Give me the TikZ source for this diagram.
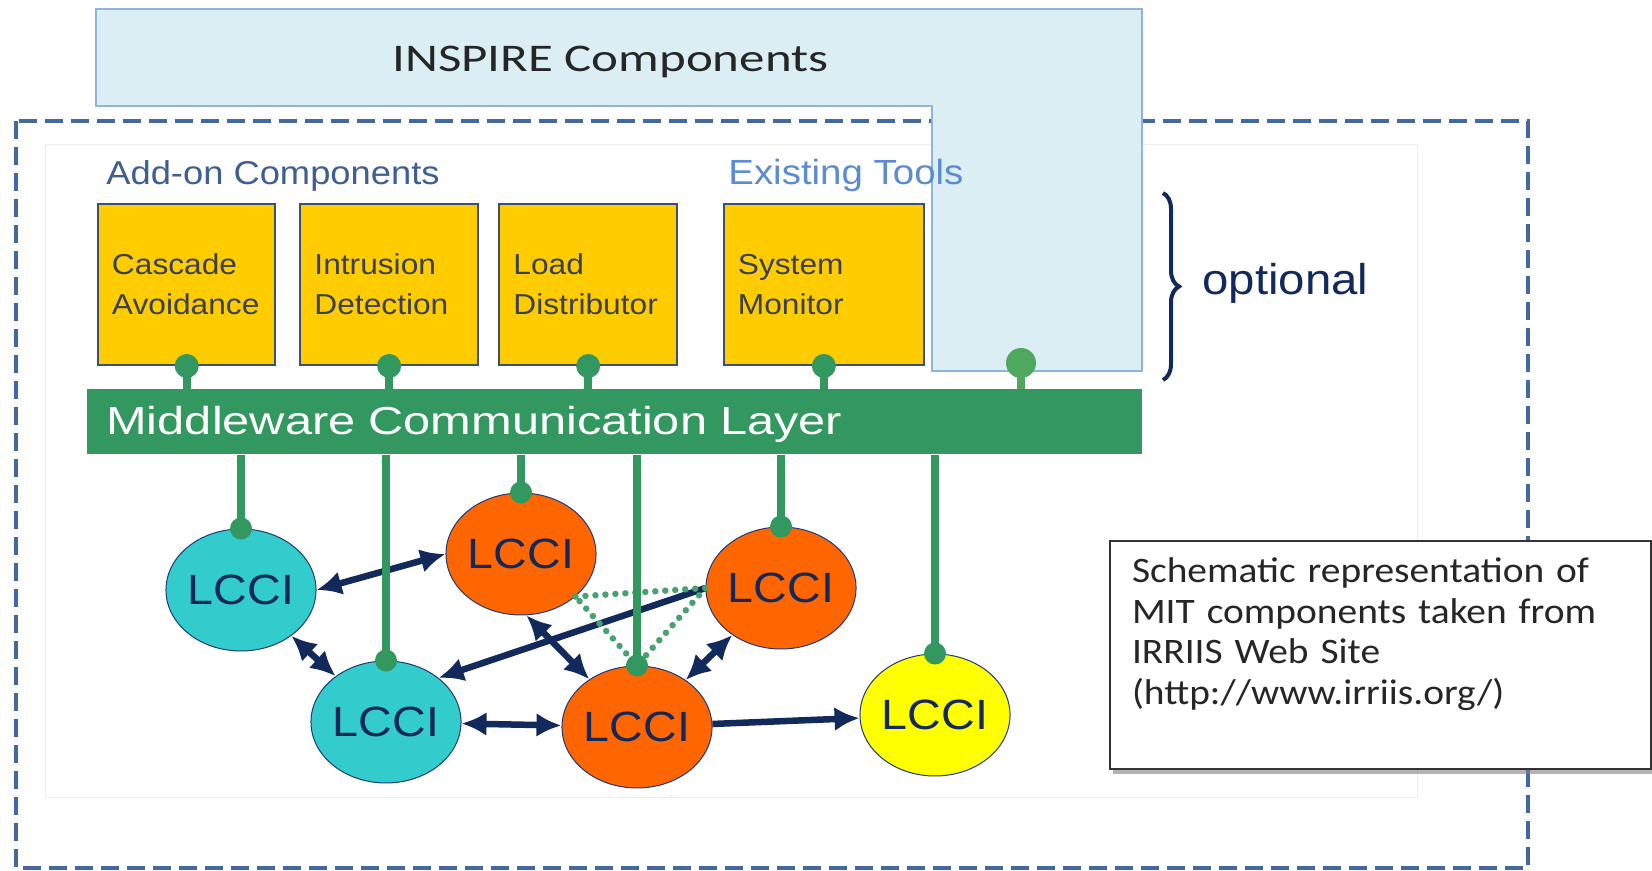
\documentclass[tikz,border=0pt]{standalone}
\usepackage{fontspec}
\setmainfont{Liberation Sans}
\newfontfamily\arfont[FakeStretch=1.1]{Liberation Sans}
\newfontfamily\arwide[FakeStretch=1.25]{Liberation Sans}
\newfontfamily\cbwide[FakeStretch=1.3]{Carlito}
\newfontfamily\cbnote[FakeStretch=1.1]{Carlito}
\usetikzlibrary{arrows.meta, positioning, shapes.geometric, shadows, decorations.pathreplacing, calc}

\definecolor{frameblue}{HTML}{41689F}
\definecolor{inspfill}{HTML}{DBEEF4}
\definecolor{inspedge}{HTML}{8FB4DE}
\definecolor{addonblue}{HTML}{3D5F92}
\definecolor{toolblue}{HTML}{5B8BD0}
\definecolor{compyellow}{HTML}{FFCC00}
\definecolor{boxedge}{HTML}{3F4F6F}
\definecolor{boxtext}{HTML}{3A4050}
\definecolor{mwgreen}{HTML}{32985F}
\definecolor{pingreen}{HTML}{4EA85E}
\definecolor{lccedge}{HTML}{1F3A7A}
\definecolor{lcctext}{HTML}{14285A}
\definecolor{lcccyan}{HTML}{33CCCC}
\definecolor{lccorange}{HTML}{FF6600}
\definecolor{lccyellow}{HTML}{FFFF00}
\definecolor{linknavy}{HTML}{12295C}

\tikzset{
  frame/.style={draw=frameblue, line width=0.08cm, dash pattern=on 0.36cm off 0.16cm},
  panel/.style={draw=black!7, line width=0.02cm, fill=white},
  inspire/.style={fill=inspfill, draw=inspedge, line width=0.03cm},
  title/.style={font=\cbwide\fontsize{22.3}{26}\selectfont, text=black!85, inner sep=0pt},
  group/.style={font=\arfont\fontsize{18.8}{22}\selectfont, text=addonblue, inner sep=0pt},
  compbox/.style={
    rectangle,
    draw=boxedge,
    line width=0.04cm,
    fill=compyellow,
    minimum height=3.22cm,
    inner xsep=0.28cm,
    text width=2.99cm,
    align=left,
    text=boxtext,
    font=\arfont\fontsize{16.4}{22.8}\selectfont
  },
  layer/.style={
    rectangle,
    fill=mwgreen,
    minimum width=21.1cm,
    minimum height=1.3cm,
    inner xsep=0.38cm,
    text width=20.34cm,
    text height=0.5cm,
    text depth=0pt,
    align=left,
    text=white,
    font=\arwide\fontsize{22.2}{26}\selectfont
  },
  lcci/.style={
    ellipse,
    draw=lccedge,
    line width=0.02cm,
    minimum width=3cm,
    minimum height=2.44cm,
    inner sep=0pt,
    text=lcctext,
    font=\arfont\fontsize{24.1}{28}\selectfont
  },
  stem/.style={draw=mwgreen, line width=0.16cm},
  link/.style={<->, >={Latex[length=0.5cm,width=0.48cm]}, draw=linknavy, line width=0.13cm},
  onelink/.style={->, >={Latex[length=0.5cm,width=0.48cm]}, draw=linknavy, line width=0.13cm},
  peer/.style={draw=mwgreen!90!white, line width=0.13cm, line cap=round, dash pattern=on 0pt off 0.2cm},
  curly/.style={draw=linknavy, line width=0.08cm, decorate, decoration={brace, amplitude=0.32cm}},
  opt/.style={font=\arfont\fontsize{24.5}{28}\selectfont, text=linknavy, inner sep=0pt},
  note/.style={
    rectangle,
    draw=black!80,
    line width=0.04cm,
    fill=white,
    drop shadow={shadow xshift=0.06cm, shadow yshift=-0.1cm, fill=black!50, opacity=0.6},
    inner xsep=0.44cm,
    inner ysep=0.34cm,
    text width=9.94cm,
    text depth=3.38cm,
    align=left,
    text=black!85,
    font=\cbnote\fontsize{20.4}{23.05}\selectfont
  }
}

\begin{document}
\begin{tikzpicture}[x=0.02cm, y=-0.02cm]
  \useasboundingbox (0,0) rectangle (1652,871);

  % frame and background
  \draw[frame] (16,121) rectangle (1528,868);
  \draw[panel] (45,145) rectangle (1417,797);

  % INSPIRE components
  \filldraw[inspire] (96,9) -- (1142,9) -- (1142,371) -- (932,371) -- (932,106) -- (96,106) -- cycle;
  \node[title, anchor=base west] (insp) at (392,72) {INSPIRE Components};
  \coordinate (insppin) at (1021,363);

  \node[group, anchor=base west] (addon) at (106,185) {Add-on Components};
  \node[group, text=toolblue, font=\arfont\fontsize{19.9}{23}\selectfont, anchor=base west] (tools) at (728,185) {Existing Tools};

  % components
  \node[compbox, anchor=north west] (casc) at (97,203) {Cascade\\Avoidance};
  \node[compbox, right=0.46cm of casc] (intr) {Intrusion\\Detection};
  \node[compbox, right=0.39cm of intr] (load) {Load\\Distributor};
  \node[compbox, text width=3.44cm, right=0.9cm of load] (sysm) {System\\Monitor};

  % middleware
  \node[layer, anchor=north west] (mcl) at (87,389) {Middleware Communication Layer};

  \foreach \b in {casc,intr,load,sysm} {
    \draw[stem] (\b.south) -- (\b.south |- mcl.north);
    \fill[mwgreen] (\b.south) circle[radius=12];
  }
  \draw[stem, draw=pingreen] (insppin) -- (insppin |- mcl.north);
  \fill[pingreen] (insppin) circle[radius=15];

  % optional brace
  \coordinate (brtop) at (1163,193);
  \coordinate (brbot) at (1163,380);
  \draw[curly] (brtop) -- (brbot);
  \node[opt, anchor=base west] (optl) at (1202,295) {optional};

  % LCCIs
  \node[lcci, fill=lcccyan] (lcA) at (241,590) {LCCI};
  \node[lcci, fill=lccorange] (lcB) at (521,554) {LCCI};
  \node[lcci, fill=lccorange] (lcC) at (781,588) {LCCI};
  \node[lcci, fill=lcccyan] (lcD) at (386,722) {LCCI};
  \node[lcci, fill=lccorange] (lcE) at (637,727) {LCCI};
  \node[lcci, fill=lccyellow] (lcF) at (935,715) {LCCI};

  \draw[link] (lcA.east) -- (lcB.west);
  \draw[link] (lcA) -- (lcD);
  \draw[link] (lcB.-85) -- (lcE.135);
  \draw[link] (lcC) -- (lcE);
  \draw[link] (lcD) -- (lcE);
  \draw[onelink] (lcC.west) -- (lcD.40);
  \draw[onelink] (lcE) -- (lcF);

  \draw[peer] (lcB.-38) -- (lcC.west) -- (lcE.north) -- cycle;

  \foreach \n in {lcA,lcB,lcC,lcD,lcE,lcF} {
    \draw[stem] (\n.north |- mcl.south) -- (\n.north);
    \fill[mwgreen] (\n.north) circle[radius=11];
  }

  % source note
  \node[note, anchor=north west] (src) at (1109,540) {Schematic representation of\\MIT components taken from\\IRRIIS Web Site\\(http://www.irriis.org/)};
\end{tikzpicture}
\end{document}
